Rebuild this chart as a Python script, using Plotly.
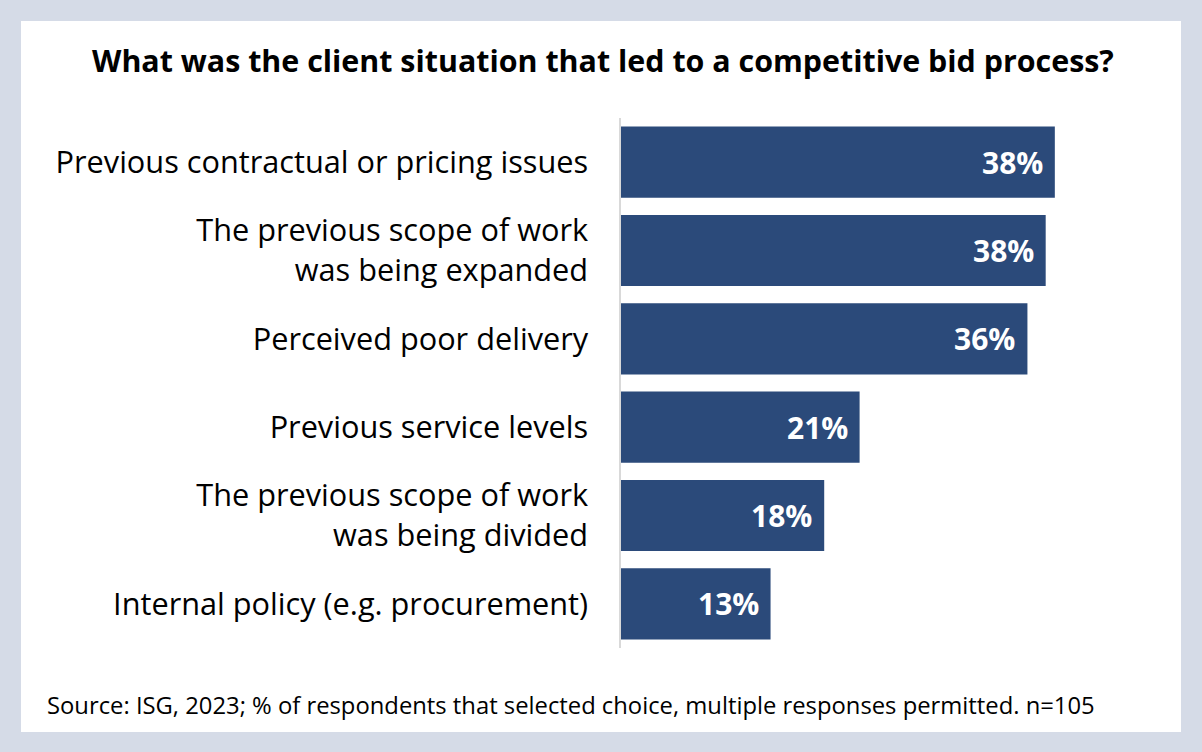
import plotly.graph_objects as go

categories = [
    'Previous contractual or pricing issues',
    'The previous scope of work<br>was being expanded',
    'Perceived poor delivery',
    'Previous service levels',
    'The previous scope of work<br>was being divided',
    'Internal policy (e.g. procurement)',
]
values = [38.0, 37.2, 35.6, 20.9, 17.8, 13.1]
value_labels = ['38%', '38%', '36%', '21%', '18%', '13%']

title = 'What was the client situation that led to a competitive bid process?'
source = 'Source: ISG, 2023; % of respondents that selected choice, multiple responses permitted. n=105'

bar_color = '#2b4a7a'
frame_color = '#d5dbe7'
font = 'Open Sans'

fig = go.Figure()
fig.add_trace(go.Bar(
    y=categories,
    x=values,
    orientation='h',
    marker=dict(color=bar_color, line=dict(width=0)),
    hoverinfo='skip',
))

# value labels inside bar ends
for cat, v, lab in zip(categories, values, value_labels):
    fig.add_annotation(x=v, y=cat, xref='x', yref='y', text=f'<b>{lab}</b>',
                       xanchor='right', xshift=-10, showarrow=False,
                       font=dict(family=font, size=30, color='white'))

# white card on the grey frame
fig.add_shape(type='rect', xref='paper', yref='paper', layer='below',
              x0=-600 / 540, x1=(1181 - 621) / 540,
              y0=-(732 - 648) / 530, y1=1 + (118 - 21) / 530,
              fillcolor='white', line=dict(width=0))

fig.add_annotation(text=f'<b>{title}</b>', xref='paper', yref='paper',
                   x=(603 - 621) / 540, y=1 + (118 - 60) / 530,
                   xanchor='center', yanchor='middle', showarrow=False,
                   font=dict(family=font, size=30.4, color='black'))
fig.add_annotation(text=source, xref='paper', yref='paper',
                   x=(45 - 621) / 540, y=-(705 - 648) / 530,
                   xanchor='left', yanchor='middle', showarrow=False,
                   font=dict(family=font, size=23.8, color='black'))

fig.update_layout(
    width=1202, height=752,
    margin=dict(l=621, r=41, t=118, b=104),
    paper_bgcolor=frame_color,
    plot_bgcolor='white',
    bargap=0.195,
    showlegend=False,
    font=dict(family=font, color='black'),
)
fig.update_xaxes(range=[0, 47.3], visible=False, fixedrange=True)
fig.update_yaxes(autorange='reversed', showline=True, linecolor='#d9d9d9',
                 linewidth=1.5, showgrid=False, ticks='',
                 ticklabelstandoff=25,
                 tickfont=dict(family=font, size=30.7, color='black'),
                 fixedrange=True)

fig.write_html('out.html', config={'displayModeBar': False},
               post_script="document.body.style.margin='0';"
                           "document.body.style.overflow='hidden';")
